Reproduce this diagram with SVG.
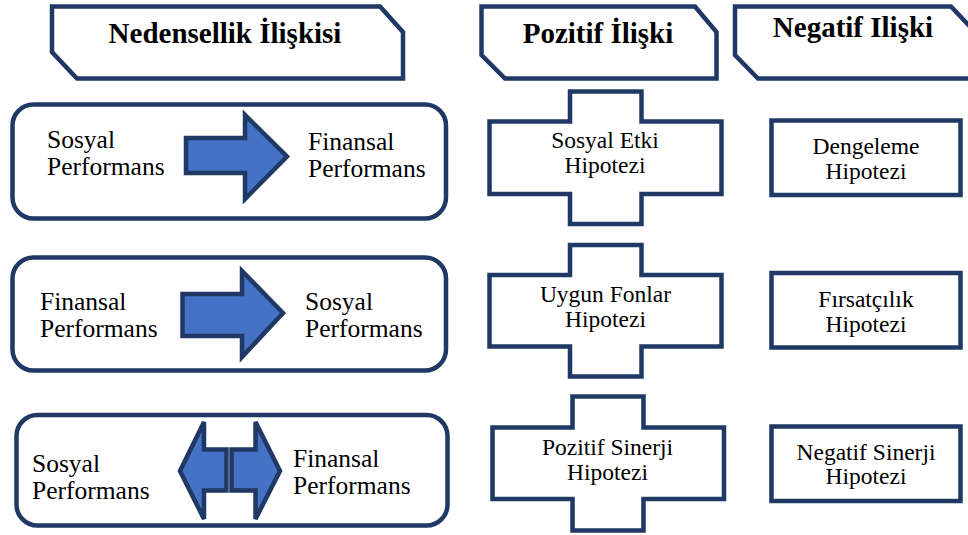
<svg xmlns="http://www.w3.org/2000/svg" width="968" height="535" viewBox="0 0 968 535">
<style>
.box{fill:#ffffff;stroke:#1F3864;stroke-width:4.5;stroke-linejoin:miter}
.arr{fill:#4472C4;stroke:#1F3864;stroke-width:4.5;stroke-linejoin:miter}
.hd{font-family:"Liberation Serif","Times New Roman",serif;font-weight:bold;font-size:29px;fill:#000;text-anchor:middle}
.lt{font-family:"Liberation Serif","Times New Roman",serif;font-size:25.5px;fill:#000}
.st{font-family:"Liberation Serif","Times New Roman",serif;font-size:23.5px;fill:#000;text-anchor:middle}
</style>
<rect width="968" height="535" fill="#ffffff"/>
<g id="header-nedensellik">
<polygon class="box" points="52,6.5 380,6.5 403,32 403,78.5 77,78.5 52,52"/>
<text class="hd" x="225" y="43">Nedensellik İlişkisi</text>
</g>
<g id="header-pozitif">
<polygon class="box" points="481.5,6.5 695,6.5 716.5,32 716.5,78.5 505,78.5 481.5,55"/>
<text class="hd" x="598" y="43">Pozitif İlişki</text>
</g>
<g id="header-negatif">
<polygon class="box" points="735,6.5 951,6.5 975,32 975,78.5 758,78.5 735,55"/>
<text class="hd" x="853" y="37">Negatif Ilişki</text>
</g>
<g id="row1">
<rect class="box" x="12.5" y="104.5" width="433.5" height="114" rx="21"/>
<text class="lt" x="47" y="148">Sosyal</text>
<text class="lt" x="47" y="175">Performans</text>
<text class="lt" x="308" y="150">Finansal</text>
<text class="lt" x="308" y="177">Performans</text>
</g>
<g id="row2">
<rect class="box" x="12.5" y="257.5" width="433.5" height="113" rx="21"/>
<text class="lt" x="40" y="310">Finansal</text>
<text class="lt" x="40" y="337">Performans</text>
<text class="lt" x="305" y="310">Sosyal</text>
<text class="lt" x="305" y="337">Performans</text>
</g>
<g id="row3">
<rect class="box" x="16.5" y="415" width="431" height="110.5" rx="21"/>
<text class="lt" x="32" y="471.5">Sosyal</text>
<text class="lt" x="32" y="498.5">Performans</text>
<text class="lt" x="293" y="467">Finansal</text>
<text class="lt" x="293" y="494">Performans</text>
</g>
<g id="connectors">
<polygon class="arr" points="186,138 245,138 245,115 287,156.5 245,199 245,173 186,173"/>
<polygon class="arr" points="182.5,294 242,294 242,271 283,313 242,357 242,336 182.5,336"/>
<polygon class="arr" points="180,471 204,422 204,449.5 226.5,449.5 226.5,490.5 204,490.5 204,519"/>
<polygon class="arr" points="231.5,449.5 255.5,449.5 255.5,422 280,471 255.5,519 255.5,490.5 231.5,490.5"/>
</g>
<g id="sosyal-etki">
<polygon class="box" points="570,91.5 641.5,91.5 641.5,121.5 721.5,121.5 721.5,194 641.5,194 641.5,224 570,224 570,194 489.5,194 489.5,121.5 570,121.5"/>
<text class="st" x="605" y="148">Sosyal Etki</text>
<text class="st" x="605" y="173">Hipotezi</text>
</g>
<g id="uygun-fonlar">
<polygon class="box" points="570,245 641.5,245 641.5,275 721.5,275 721.5,346.5 641.5,346.5 641.5,376.5 570,376.5 570,346.5 489.5,346.5 489.5,275 570,275"/>
<text class="st" x="605.5" y="301.5">Uygun Fonlar</text>
<text class="st" x="605.5" y="326.5">Hipotezi</text>
</g>
<g id="pozitif-sinerji">
<polygon class="box" points="572.5,396.5 643.5,396.5 643.5,427.5 724,427.5 724,499 643.5,499 643.5,530.5 572.5,530.5 572.5,499 492.5,499 492.5,427.5 572.5,427.5"/>
<text class="st" x="607.5" y="455">Pozitif Sinerji</text>
<text class="st" x="607.5" y="480">Hipotezi</text>
</g>
<g id="dengeleme">
<rect class="box" x="771.5" y="120.5" width="189" height="74.5"/>
<text class="st" x="866" y="153.5">Dengeleme</text>
<text class="st" x="866" y="178.5">Hipotezi</text>
</g>
<g id="firsatcilik">
<rect class="box" x="771.5" y="273" width="189" height="74.5"/>
<text class="st" x="866" y="307">Fırsatçılık</text>
<text class="st" x="866" y="332">Hipotezi</text>
</g>
<g id="negatif-sinerji">
<rect class="box" x="771.5" y="426.5" width="189" height="74.5"/>
<text class="st" x="866" y="460">Negatif Sinerji</text>
<text class="st" x="866" y="484">Hipotezi</text>
</g>
</svg>
